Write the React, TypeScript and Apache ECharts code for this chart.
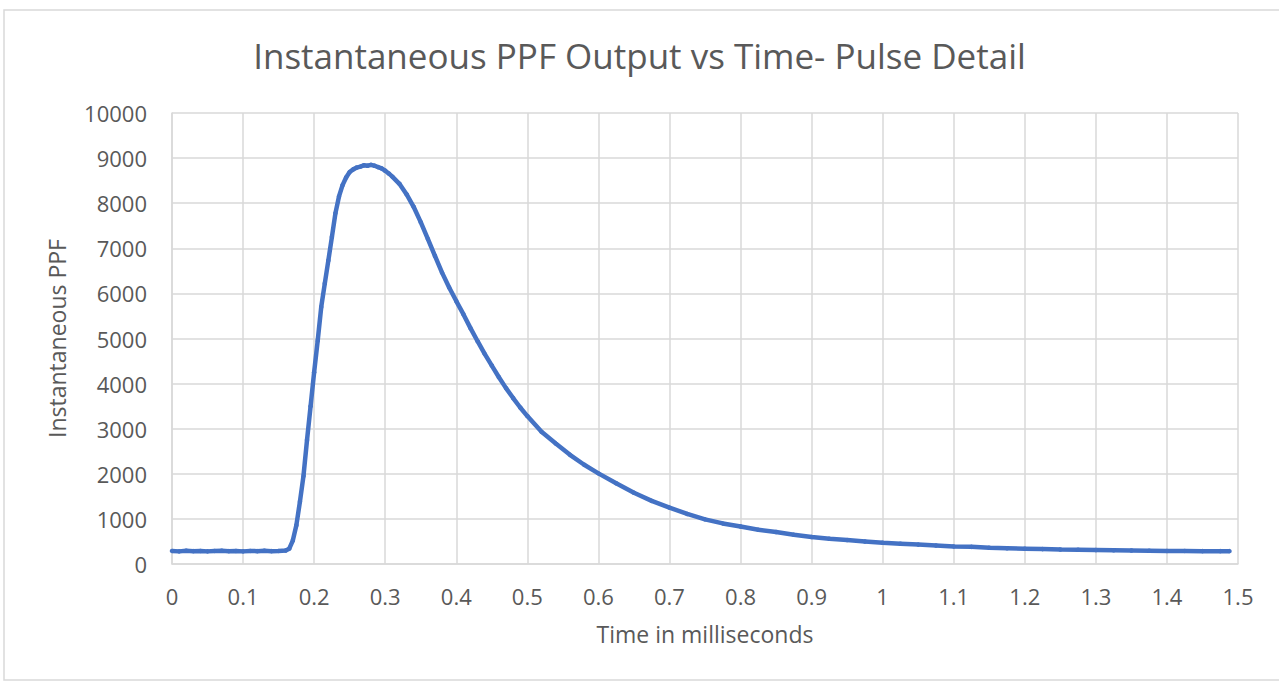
import React, { useEffect, useRef } from "react";
import * as echarts from "echarts";

const titleText = "Instantaneous PPF Output vs Time- Pulse Detail";
const xAxisName = "Time in milliseconds";
const yAxisName = "Instantaneous PPF";

const timeMs = [
  0.0, 0.01, 0.02, 0.03, 0.04, 0.05, 0.06, 0.07, 0.08, 0.09, 0.1, 0.11, 0.12, 0.13, 0.14, 0.15, 0.16,
  0.165, 0.17, 0.175, 0.18, 0.185, 0.19, 0.195, 0.2, 0.205, 0.21, 0.215, 0.22, 0.225, 0.23, 0.235, 0.24,
  0.245, 0.25, 0.255, 0.26, 0.265, 0.27, 0.275, 0.28, 0.285, 0.29, 0.295, 0.3, 0.305, 0.31, 0.32, 0.33,
  0.34, 0.35, 0.36, 0.37, 0.38, 0.39, 0.4, 0.41, 0.42, 0.43, 0.44, 0.45, 0.46, 0.47, 0.48, 0.49, 0.5,
  0.52, 0.54, 0.56, 0.58, 0.6, 0.625, 0.65, 0.675, 0.7, 0.725, 0.75, 0.775, 0.8, 0.825, 0.85, 0.875, 0.9,
  0.925, 0.95, 0.975, 1.0, 1.025, 1.05, 1.075, 1.1, 1.125, 1.15, 1.175, 1.2, 1.225, 1.25, 1.275, 1.3,
  1.325, 1.35, 1.375, 1.4, 1.425, 1.45, 1.475, 1.488,
];

const ppf = [
  290, 280, 295, 285, 290, 280, 290, 295, 285, 290, 280, 290, 285, 295, 285, 290, 300,
  340, 520, 860, 1380, 1950, 2750, 3500, 4250, 4950, 5700, 6220, 6730, 7250, 7780, 8150, 8400,
  8570, 8690, 8750, 8790, 8810, 8840, 8830, 8850, 8830, 8800, 8770, 8720, 8660, 8590, 8430, 8200,
  7920, 7580, 7210, 6830, 6460, 6130, 5830, 5540, 5230, 4940, 4660, 4400, 4140, 3900, 3680, 3470, 3280,
  2930, 2670, 2420, 2200, 2010, 1790, 1580, 1400, 1250, 1110, 990, 900, 830, 760, 710, 650, 600,
  560, 530, 500, 470, 450, 430, 410, 390, 380, 360, 350, 340, 330, 320, 315, 310,
  305, 300, 295, 290, 290, 285, 285, 285,
];

const xTicks = { min: 0, max: 1.5, interval: 0.1 };
const yTicks = { min: 0, max: 10000, interval: 1000 };

export default function App() {
  const ref = useRef<HTMLDivElement>(null);
  useEffect(() => {
    if (!ref.current) return;
    const chart = echarts.init(ref.current, undefined, { renderer: "svg" });
    const textColor = "#595959";
    const gridColor = "#d9d9d9";
    const font = "'Open Sans', sans-serif";
    chart.setOption({
      animation: false,
      backgroundColor: "#ffffff",
      title: {
        text: titleText,
        left: "center",
        top: 33,
        textStyle: { color: textColor, fontSize: 35, fontWeight: "normal", fontFamily: font },
      },
      graphic: [
        {
          type: "rect",
          shape: { x: 4, y: 10, width: 1300, height: 670 },
          style: { fill: "none", stroke: gridColor, lineWidth: 1.5 },
          silent: true,
        },
      ],
      grid: { left: 172, right: 41, top: 113, bottom: 117, containLabel: false },
      xAxis: {
        type: "value",
        min: xTicks.min,
        max: xTicks.max,
        interval: xTicks.interval,
        name: xAxisName,
        nameLocation: "middle",
        nameGap: 58,
        nameTextStyle: { color: textColor, fontSize: 23, fontFamily: font },
        axisLine: { show: true, lineStyle: { color: gridColor, width: 1.5 } },
        axisTick: { show: false },
        axisLabel: {
          color: textColor,
          fontSize: 22,
          fontFamily: font,
          margin: 21,
          formatter: (v: number) => String(Math.round(v * 10) / 10),
        },
        splitLine: { show: true, lineStyle: { color: gridColor, width: 1.5 } },
      },
      yAxis: {
        type: "value",
        min: yTicks.min,
        max: yTicks.max,
        interval: yTicks.interval,
        name: yAxisName,
        nameLocation: "middle",
        nameGap: 104,
        nameTextStyle: { color: textColor, fontSize: 23, fontFamily: font },
        axisLine: { show: true, lineStyle: { color: gridColor, width: 1.5 } },
        axisTick: { show: false },
        axisLabel: {
          color: textColor,
          fontSize: 22,
          fontFamily: font,
          margin: 25,
          formatter: (v: number) => String(v),
        },
        splitLine: { show: true, lineStyle: { color: gridColor, width: 1.5 } },
      },
      series: [
        {
          type: "line",
          data: timeMs.map((t, i) => [t, ppf[i]]),
          showSymbol: true,
          symbol: "circle",
          symbolSize: 4.5,
          itemStyle: { color: "#4472C4" },
          lineStyle: { color: "#4472C4", width: 4.5 },
          silent: true,
        },
      ],
    });
    return () => chart.dispose();
  }, []);
  return (
    <div
      ref={ref}
      style={{ position: "absolute", left: 0, top: 0, width: 1279, height: 681 }}
    />
  );
}
